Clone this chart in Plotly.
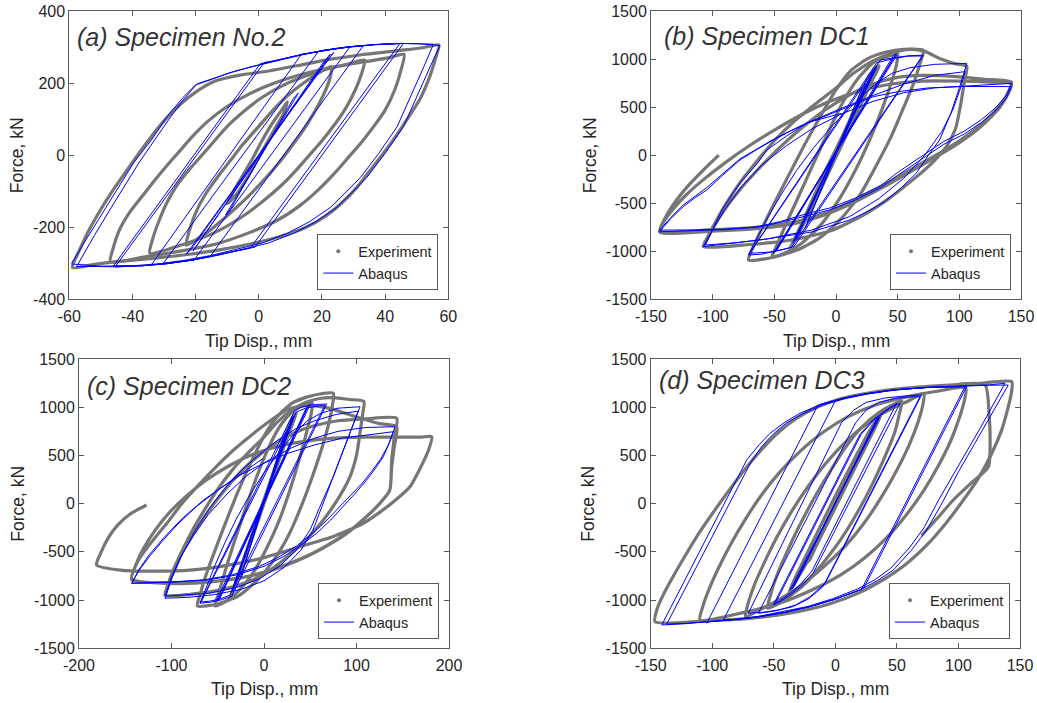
import plotly.graph_objects as go

FONT = "Liberation Sans"
GRAY = "#767676"
BLUE = "#0000ff"
AXC = "#5a5a5a"
TXT = "#262626"

# ---------------- tick labels ----------------
A_XTICKS = [-60, -40, -20, 0, 20, 40, 60]
A_YTICKS = [-400, -200, 0, 200, 400]
B_XTICKS = [-150, -100, -50, 0, 50, 100, 150]
BD_YTICKS = [-1500, -1000, -500, 0, 500, 1000, 1500]
C_XTICKS = [-200, -100, 0, 100, 200]

TITLES = ["(a) Specimen No.2", "(b) Specimen DC1", "(c) Specimen DC2", "(d) Specimen DC3"]
XLABEL = "Tip Disp., mm"
YLABEL = "Force, kN"
SERIES = ["Experiment", "Abaqus"]

# ---------------- panel (a): Specimen No.2 ----------------
A_EXP = [
    [(-10,-135),(-8,-100),(-5,-55),(-2,-10),(1,40),(4,85),(7,122),(9,148),(8,118),(5,72),(2,25),(-1,-22),(-4,-68),(-7,-108),(-10,-135)],
    [(-23,-250),(-22,-210),(-20,-160),(-17,-110),(-13,-60),(-9,-15),(-5,30),(0,80),(5,130),(10,172),(15,205),(19,228),(23,246),
     (22.5,212),(20.5,168),(17.5,118),(14,68),(10,20),(6,-25),(1,-75),(-4,-120),(-10,-168),(-16,-212),(-23,-250)],
    [(-34.5,-272),(-33.5,-230),(-31.5,-180),(-29,-130),(-26,-85),(-22,-40),(-18,0),(-14,40),(-10,80),(-5,120),(1,160),(8,195),(15,220),(22,240),(28,252),(33.5,264),
     (32.5,225),(30.5,180),(27.5,130),(24,85),(20,40),(16,0),(12,-40),(7,-85),(1,-130),(-6,-175),(-14,-215),(-23,-245),(-34.5,-272)],
    [(-47,-296),(-46,-255),(-44,-205),(-41,-160),(-37,-115),(-33,-70),(-29,-28),(-25,12),(-21,52),(-16,95),(-10,135),(-3,170),(5,200),(14,225),(24,245),(34,260),(41,270),(46,280),
     (45,235),(43,180),(40,125),(36,75),(32,30),(28,-10),(24,-50),(19,-95),(13,-140),(6,-180),(-3,-215),(-13,-245),(-24,-265),(-36,-282),(-47,-296)],
    [(-59,-312),(-57,-268),(-54,-212),(-50,-150),(-46,-95),(-42,-45),(-38,5),(-34,52),(-30,95),(-25,140),(-20,175),(-14,205),(-6,222),(2,232),(12,248),(22,265),(32,278),(44,290),(52,298),(57,306),
     (56,270),(54,215),(51,155),(47,100),(43,48),(39,0),(35,-45),(31,-90),(26,-135),(21,-170),(15,-200),(7,-225),(-2,-245),(-12,-262),(-22,-275),(-32,-285),(-44,-295),(-52,-303),(-59,-312)],
]
A_FEM = [
    [(-10.5,-166),(12.5,172),(11,158),(-9,-150),(-10.5,-166)],
    [(-23,-275),(23.7,285),(21.5,262),(-21.5,-262),(-23,-275)],
    [(-20.8,-266),(22.6,280),(20.5,258),(-19,-245),(-20.8,-266)],
    [(-34,-304),(13.5,280),(21,291),(29,301),(33.1,304),(-15.5,-282),(-21,-291),(-29,-301),(-34,-304)],
    [(-30.2,-300),(19,289),(24,296),(28.9,301),(-20.5,-291),(-25,-296),(-30.2,-300)],
    [(-46,-307),(0.5,254),(5,262),(13,278),(21,291),(29,301),(37,307),(45.8,310),(-1.2,-255),(-5,-262),(-13,-278),(-21,-291),(-29,-301),(-37,-307),(-46,-307)],
    [(-45.5,-310),(1.7,257),(5,262),(13,278),(21,291),(29,301),(37,307),(44.7,310),(-2.7,-258),(-5,-262),(-13,-278),(-21,-291),(-29,-301),(-37,-307),(-45.5,-310)],
    [(-59.3,-300),(-54,-225),(-48,-140),(-43,-70),(-39.7,-22),(-34,42),(-29,108),(-24,160),(-20,195),(-15,210),(-10,226),(-3,244),(5,262),(13,278),(21,291),(29,301),(37,307),(45,310),(51,309),(57.4,304),
     (54.5,250),(51.5,190),(48.5,130),(45.8,79),(40,5),(34.2,-62),(29,-108),(24.7,-145),(18,-185),(11,-217),(3,-244),(-5,-262),(-13,-278),(-21,-291),(-29,-301),(-37,-307),(-45,-310),(-51,-309),(-57.7,-309)],
    [(-57.7,-309),(-52,-222),(-46,-135),(-41.5,-70),(-38,-22),(-33,42),(-28,105),(-23.5,158),(-19.5,198),(-14,214),(-8,232),(0,250),(8,267),(16,283),(26,297),(36,306),(45,310),(55.3,308),
     (52.5,250),(49.5,190),(46.5,130),(43.8,79),(38,5),(32.2,-62),(27,-108),(22.7,-145),(16,-185),(9,-217),(1,-244),(-7,-262),(-15,-278),(-23,-291),(-31,-301),(-40,-307),(-50,-308),(-59.3,-302)],
]

# ---------------- panel (b): Specimen DC1 ----------------
B_EXP = [
    [(-33,-880),(-20,-560),(0,-20),(20,520),(32,880),(28,850),(10,330),(-10,-260),(-25,-680),(-33,-880)],
    [(-37,-960),(-22,-580),(0,20),(22,600),(35,930),(31,900),(12,380),(-10,-200),(-28,-720),(-37,-960)],
    [(-52,-1060),(-48,-940),(-40,-700),(-30,-420),(-18,-80),(-6,250),(6,560),(18,800),(30,960),(42,1030),(50,1050),
     (49,940),(45,760),(38,500),(28,180),(16,-150),(3,-450),(-12,-720),(-28,-920),(-40,-1010),(-52,-1060)],
    [(-71,-1092),(-68,-980),(-60,-760),(-50,-500),(-38,-200),(-25,120),(-12,420),(0,680),(12,880),(25,1000),(40,1070),(55,1100),(70.8,1090),
     (68,950),(63,750),(55,500),(45,200),(33,-100),(20,-400),(5,-650),(-12,-850),(-30,-980),(-50,-1060),(-71,-1092)],
    [(-107.6,-952),(-104,-850),(-97,-680),(-88,-480),(-77,-270),(-64,-60),(-50,150),(-35,340),(-18,520),(0,700),(15,860),(30,980),(45,1060),(60,1100),(72,1080),(85,1000),(97,950),(106,925),
     (104,760),(101,520),(97,280),(90,100),(78,-80),(62,-260),(42,-460),(20,-640),(-5,-790),(-35,-880),(-70,-930),(-107.6,-952)],
    [(-107.6,-952),(-100,-760),(-90,-560),(-78,-360),(-64,-160),(-48,50),(-30,260),(-10,460),(10,620),(30,740),(50,810),(70,830),(95,820),(120,790),(142.4,760),
     (139,640),(133,520),(126,420),(115,290),(100,150),(85,30),(70,-80),(50,-230),(30,-370),(10,-500),(-10,-610),(-35,-700),(-65,-750),(-100,-775),(-143,-797),
     (-140,-700),(-132,-560),(-122,-420),(-108,-260),(-90,-80),(-70,100),(-50,260),(-28,420),(-5,560),(20,670),(45,740),(70,770),(100,770),(125,760),(142.4,745),
     (139,625),(133,500),(126,400),(115,270),(100,130),(85,10),(70,-100),(50,-250),(30,-390),(10,-520),(-10,-625),(-35,-715),(-65,-765),(-100,-790),(-143,-800),
     (-138,-640),(-130,-480),(-120,-320),(-108,-160),(-95,0)],
]
B_FEM = [
    [(-25,-760),(24,740),(22,720),(-24,-745),(-25,-760)],
    [(-35,-910),(32,900),(30,880),(-33,-880),(-35,-910)],
    [(-34,-890),(33,915),(31,895),(-32,-870),(-34,-890)],
    [(-50.8,-1021),(49.2,1040),(47,1020),(-48,-990),(-50.8,-1021)],
    [(-50,-1010),(49,1057),(46.5,1035),(-47.5,-975),(-50,-1010)],
    [(-70,-1021),(36,990),(50,1020),(60,1035),(70.8,1040),(-34,-950),(-45,-990),(-55,-1010),(-70,-1021)],
    [(-71,-1039),(33,960),(45,1000),(58,1030),(70,1032),(-36,-960),(-50,-1000),(-60,-1030),(-71,-1039)],
    [(-71,-1039),(-64,-860),(-55,-640),(-44,-400),(-32,-160),(-18,80),(-2,320),(15,540),(30,720),(45,850),(60,910),(80,945),(106,955),
     (100,700),(93,430),(84,158),(75,0),(65,-189),(52,-350),(40,-480),(25,-590),(11,-675),(-20,-800),(-60,-880),(-85,-920),(-107.6,-952),
     (-101,-800),(-92,-560),(-78,-293),(-64,-90),(-56,54),(-40,200),(-24,331),(3,480),(30,620),(55,740),(80,830),(104.6,869),
     (101,700),(95,480),(86,250),(72,0),(55,-240),(35,-450),(11,-640),(-20,-780),(-55,-870),(-80,-910),(-106,-935),
     (-100,-780),(-90,-560),(-76,-320),(-60,-100),(-40,100),(-20,270),(3,420),(30,560),(55,650),(80,700),(110,725),(142.4,747),
     (138,620),(130,500),(118,370),(104,250),(87,140),(68,-20),(50,-180),(36,-320),(15,-450),(-5,-550),(-24,-610),(-45,-690),(-64,-745),(-90,-775),(-115,-785),(-143,-797),
     (-134,-660),(-123.8,-536),(-114,-440),(-104.8,-363),(-92,-210),(-77.8,-50),(-64,60),(-50.8,158),(-37,250),(-23.8,331),(-10,400),(3.2,470),(16,540),(30.2,608),(50,660),(75,700),(105,715),(142.4,713),
     (138,590),(130,470),(118,340),(104,220),(87,110),(68,-50),(50,-210),(36,-340),(15,-470),(-5,-570),(-24,-630),(-45,-700),(-64,-750),(-90,-770),(-115,-778),(-143,-780),
     (-134,-650),(-124,-520),(-105,-340),(-78,-40),(-50,170),(-23,340),(4.6,435)],
]

# ---------------- panel (c): Specimen DC2 ----------------
C_EXP = [
    [(-33,-900),(-18,-500),(0,0),(18,500),(32,880),(28,840),(12,380),(-8,-200),(-25,-680),(-33,-900)],
    [(-36,-960),(-20,-540),(0,40),(20,580),(35,940),(31,900),(14,420),(-8,-180),(-27,-720),(-36,-960)],
    [(-53,-1060),(-49,-930),(-42,-700),(-33,-420),(-21,-80),(-9,250),(4,560),(17,800),(30,950),(42,1020),(52,1050),
     (51,930),(46,740),(39,490),(29,170),(17,-160),(3,-460),(-12,-720),(-28,-910),(-41,-1010),(-53,-1060)],
    [(-72,-1060),(-69,-940),(-62,-720),(-52,-460),(-40,-160),(-27,150),(-13,450),(0,700),(14,900),(30,1040),(48,1110),(62,1140),(75,1144),
     (74,1020),(70,830),(63,590),(53,300),(41,-10),(27,-320),(11,-580),(-8,-800),(-28,-960),(-50,-1040),(-72,-1060)],
    [(-107,-950),(-104,-850),(-97,-680),(-88,-480),(-77,-270),(-64,-60),(-50,150),(-35,340),(-18,520),(0,690),(15,850),(30,970),(45,1050),(60,1090),(75,1100),(92,1080),(108,1060),
     (107,950),(104,750),(100,500),(93,280),(82,80),(68,-120),(50,-330),(28,-530),(5,-700),(-20,-820),(-50,-900),(-80,-940),(-107,-950)],
    [(-107,-950),(-101,-760),(-92,-560),(-80,-360),(-66,-160),(-50,50),(-32,260),(-12,450),(10,610),(32,730),(55,810),(80,860),(110,880),(143.5,885),
     (141,700),(138,450),(136,140),(125,0),(110,-140),(90,-300),(65,-450),(38,-580),(10,-680),(-20,-760),(-55,-810),(-95,-830),(-143,-780),
     (-136,-590),(-125,-440),(-115,-320),(-105,-204),(-88,10),(-69,211),(-51,390),(-33,556),(-15,700),(3,833),(24.5,971),(45,1020),(70,990),(100,900),(125,830),(143.5,798),
     (141,600),(138,380),(136,142),(124,-10),(108,-160),(88,-320),(62,-470),(34,-600),(5,-700),(-26,-770),(-60,-810),(-100,-820),(-143,-790),
     (-138,-620),(-130,-460),(-118,-280),(-103,-100),(-85,70),(-63,240),(-40,380),(-15,500),(10,580),(40,640),(75,680),(110,690),(145,690),(170,690),(181.3,694),
     (178,560),(170,390),(157.8,176),(140,20),(125,-90),(107.4,-204),(75,-340),(38.9,-446),(0,-560),(-40,-640),(-80,-690),(-120,-700),(-155,-690),(-181,-636),
     (-176,-500),(-168,-350),(-158,-220),(-145,-110),(-127,-14)],
]
C_FEM = [
    [(-25,-760),(24,740),(22,720),(-24,-745),(-25,-760)],
    [(-35,-910),(32,900),(30,880),(-33,-880),(-35,-910)],
    [(-34,-890),(33,915),(31,895),(-32,-870),(-34,-890)],
    [(-51.1,-999),(48,1020),(46,1000),(-48,-970),(-51.1,-999)],
    [(-50,-1010),(50,1030),(47.5,1010),(-47.5,-980),(-50,-1010)],
    [(-69.2,-1033),(33,960),(40,1000),(50,1020),(60,1030),(67.8,1033),(-35,-960),(-45,-995),(-57,-1020),(-69.2,-1033)],
    [(-68,-1020),(35,950),(45,990),(57,1010),(66,1023),(-37,-950),(-48,-990),(-58,-1010),(-68,-1020)],
    [(-69.2,-1033),(-62,-850),(-53,-640),(-42,-400),(-30,-160),(-16,80),(0,320),(17,540),(32,720),(47,860),(62,940),(80,990),(103.8,1005),
     (90,660),(75,280),(62,-40),(53,-273),(40,-480),(22,-660),(0,-800),(-25,-890),(-55,-945),(-80,-970),(-107,-981),
     (-99,-760),(-88,-520),(-75,-290),(-60,-60),(-43,150),(-25,340),(-5,510),(15,660),(35,780),(55,860),(78,925),(102,960),
     (88,620),(74,260),(60,-40),(50,-270),(36,-470),(18,-640),(-5,-780),(-30,-870),(-60,-930),(-85,-950),(-107,-960),
     (-100,-760),(-90,-550),(-76,-330),(-60,-110),(-40,100),(-20,280),(3,440),(30,580),(55,680),(80,750),(110,790),(141.6,798),
     (136,640),(129,487),(120,360),(111,245),(98,100),(85.8,-31),(72,-170),(57,-307),(40,-430),(20.9,-550),(0,-650),(-30,-740),(-60,-790),(-100,-815),(-143,-826),
     (-135,-690),(-124,-550),(-110,-390),(-93,-210),(-73,-30),(-50,140),(-25,300),(0,420),(25,520),(55,610),(85,680),(115,720),(139.8,746),
     (134,600),(126,460),(116,330),(106,210),(93,80),(80,-50),(66,-190),(51,-320),(35,-440),(15,-560),(-5,-650),(-35,-740),(-65,-790),(-105,-815),(-143,-826),
     (-135,-680),(-124,-530),(-108,-350),(-88,-150),(-65,40),(-40,210),(-20,340),(-0.8,470)],
]

# ---------------- panel (d): Specimen DC3 ----------------
D_EXP = [
    [(-22,-600),(20,560),(18,520),(-20,-560),(-22,-600)],
    [(-38,-920),(-30,-700),(-15,-310),(0,80),(15,450),(28,760),(37,930),(35,860),(25,600),(10,220),(-5,-170),(-20,-540),(-32,-800),(-38,-920)],
    [(-55,-1085),(-53,-960),(-48,-760),(-40,-520),(-30,-250),(-18,40),(-5,320),(8,580),(22,800),(36,950),(47,1030),(54,1065),
     (52,930),(48,730),(40,480),(30,200),(18,-90),(5,-360),(-9,-600),(-23,-810),(-37,-960),(-48,-1050),(-55,-1085)],
    [(-73,-1170),(-71,-1040),(-66,-850),(-58,-620),(-48,-360),(-36,-90),(-22,180),(-7,430),(10,660),(28,850),(45,980),(60,1070),(72,1145),
     (71,1020),(67,840),(60,610),(50,350),(38,80),(24,-190),(8,-440),(-10,-660),(-28,-850),(-45,-990),(-60,-1090),(-73,-1170)],
    [(-110,-1207),(-108,-1080),(-103,-900),(-95,-670),(-85,-420),(-73,-160),(-60,90),(-45,330),(-28,550),(-10,740),(10,900),(32,1020),(55,1100),(80,1160),(106,1200),
     (105,1080),(101,900),(94,660),(84,400),(72,140),(58,-110),(42,-350),(24,-560),(4,-740),(-20,-900),(-45,-1030),(-75,-1130),(-110,-1207)],
    [(-146.5,-1224),(-145,-1100),(-140,-950),(-132,-760),(-122,-540),(-110,-290),(-97,-50),(-85,160),(-72,380),(-60,560),(-47,730),(-32,880),(-15,1000),(5,1090),(28,1150),(55,1195),(85,1225),(115,1245),(143.3,1265),
     (143,1150),(140,980),(135,760),(127,520),(116,260),(103,20),(90,-200),(75,-420),(58,-620),(40,-780),(20,-920),(-5,-1040),(-35,-1130),(-70,-1190),(-105,-1215),(-146.5,-1224)],
    [(100,1238),(121.6,1231),(125,900),(125.7,694),(124.3,383),(110,210),(95.8,38),(85,-120),(70,-330)],
]
D_FEM = [
    [(-36.8,-895),(36.3,902),(34,870),(-34.5,-870),(-36.8,-895)],
    [(-35,-880),(35,890),(33,860),(-33,-850),(-35,-880)],
    [(-50.4,-1051),(20,720),(30,860),(40,960),(46,1010),(52.5,1041),(-18,-720),(-28,-860),(-38,-960),(-44,-1010),(-50.4,-1051)],
    [(-49,-1040),(21,720),(31,860),(41,960),(46,1000),(49.8,1041),(-19,-700),(-30,-860),(-40,-960),(-46,-1010),(-49,-1040)],
    [(-70.7,-1137),(5,840),(15,970),(25,1050),(40,1095),(55,1115),(70.1,1127),(-8,-820),(-20,-960),(-32,-1050),(-45,-1100),(-58,-1125),(-70.7,-1137)],
    [(-62.6,-1137),(16.5,840),(25,970),(35,1050),(48,1090),(58,1105),(68.7,1109),(-10,-860),(-22,-990),(-35,-1070),(-50,-1115),(-62.6,-1137)],
    [(-104.5,-1241),(-14.2,1020),(-12,1030),(6.5,1093),(25,1140),(47,1179),(75,1205),(106.7,1215),
     (23.2,-873),(20,-895),(0,-990),(-20.6,-1068),(-40,-1125),(-61.2,-1172),(-80,-1200),(-91,-1207)],
    [(-91,-1207),(0.2,1072),(6.5,1093),(25,1140),(47,1179),(75,1205),(105.3,1213),
     (21.4,-885),(20,-895),(0,-990),(-20.6,-1068),(-40,-1125),(-61.2,-1172),(-80,-1200),(-101.8,-1224),(-104.5,-1235)],
    [(-141,-1258),(-120,-740),(-100,-240),(-85,130),(-72,453),(-62,610),(-53,730),(-41,845),(-28.7,937),(-12,1030),(6.5,1093),(25,1140),(47,1179),(75,1205),(101,1220),(125,1228),(140.5,1230),
     (120,770),(100,330),(86,-10),(74.2,-273),(62,-480),(47.1,-688),(34,-800),(20,-895),(0,-990),(-20.6,-1068),(-40,-1125),(-61.2,-1172),(-80,-1200),(-101.8,-1224),(-120,-1240),(-137,-1250)],
    [(-137,-1250),(-117,-760),(-97,-260),(-82,110),(-69,420),(-60,590),(-51,715),(-40,835),(-27,930),(-10,1025),(8,1090),(27,1140),(48,1180),(76,1207),(102,1222),(125,1232),(137.8,1248),
     (118,790),(98,350),(84,40),(72,-250),(60,-460),(45,-670),(32,-790),(18,-885),(-2,-985),(-22,-1065),(-42,-1120),(-63,-1170),(-82,-1200),(-103,-1225),(-122,-1245),(-141,-1258)],
]

# ---------------- layout geometry (pixels in a 1037x703 page) ----------------
W, H = 1037, 703
PANELS = [
    dict(box=(69.3, 448.3, 11, 299.3), xr=(-60, 60), yr=(-400, 400), xt=A_XTICKS, yt=A_YTICKS, exp=A_EXP, fem=A_FEM,
         title=(75, 37), ylab=17, xlab=341),
    dict(box=(651, 1021, 11, 299.3), xr=(-150, 150), yr=(-1500, 1500), xt=B_XTICKS, yt=BD_YTICKS, exp=B_EXP, fem=B_FEM,
         title=(662, 36), ylab=590, xlab=341),
    dict(box=(79, 449, 359, 648.3), xr=(-200, 200), yr=(-1500, 1500), xt=C_XTICKS, yt=BD_YTICKS, exp=C_EXP, fem=C_FEM,
         title=(85, 386), ylab=18, xlab=689),
    dict(box=(650.7, 1020, 359, 648.3), xr=(-150, 150), yr=(-1500, 1500), xt=B_XTICKS, yt=BD_YTICKS, exp=D_EXP, fem=D_FEM,
         title=(657, 380), ylab=588, xlab=689),
]


def flatten(loops):
    xs, ys = [], []
    for loop in loops:
        for x, y in loop:
            xs.append(x)
            ys.append(y)
        xs.append(None)
        ys.append(None)
    return xs, ys


def fx(px):
    return px / W


def fy(py):
    return 1 - py / H


fig = go.Figure()
layout = dict(
    width=W, height=H, margin=dict(l=0, r=0, t=0, b=0, pad=0, autoexpand=False),
    paper_bgcolor="white", plot_bgcolor="white",
    font=dict(family=FONT, size=16, color=TXT),
    showlegend=True, template="none",
)
annotations = []

for i, p in enumerate(PANELS):
    n = "" if i == 0 else str(i + 1)
    xa, ya = "x" + n, "y" + n
    leg = "legend" + n
    l, r, t, b = p["box"]

    ex, ey = flatten(p["exp"])
    fig.add_trace(go.Scatter(x=ex, y=ey, xaxis=xa, yaxis=ya, mode="lines",
                             line=dict(color=GRAY, width=3.2, shape="spline", smoothing=0.6),
                             showlegend=False, hoverinfo="skip", connectgaps=False))
    fig.add_trace(go.Scatter(x=[None], y=[None], xaxis=xa, yaxis=ya, mode="markers",
                             marker=dict(color=GRAY, size=4), name=SERIES[0], legend=leg))
    bx, by = flatten(p["fem"])
    fig.add_trace(go.Scatter(x=bx, y=by, xaxis=xa, yaxis=ya, mode="lines",
                             line=dict(color=BLUE, width=1), name=SERIES[1], legend=leg,
                             connectgaps=False))

    common = dict(showline=True, linecolor=AXC, linewidth=1, mirror="ticks",
                  ticks="inside", ticklen=5, tickcolor=AXC, tickwidth=1,
                  showgrid=False, zeroline=False, fixedrange=True, automargin=False,
                  tickfont=dict(family=FONT, size=16, color=TXT))
    layout["xaxis" + n] = dict(common, domain=[fx(l), fx(r)], range=list(p["xr"]), anchor=ya,
                               tickmode="array", tickvals=p["xt"], ticktext=[str(v) for v in p["xt"]],
                               ticklabelstandoff=2)
    layout["yaxis" + n] = dict(common, domain=[fy(b), fy(t)], range=list(p["yr"]), anchor=xa,
                               tickmode="array", tickvals=p["yt"], ticktext=[str(v) for v in p["yt"]],
                               ticklabelstandoff=0)
    layout[leg] = dict(x=fx(r - 10), y=fy(b - 9), xanchor="right", yanchor="bottom",
                       xref="paper", yref="paper",
                       bgcolor="white", bordercolor=AXC, borderwidth=1,
                       font=dict(family=FONT, size=14.5, color=TXT),
                       tracegroupgap=0, itemwidth=30)

    tx, ty = p["title"]
    annotations.append(dict(x=fx(tx), y=fy(ty), xref="paper", yref="paper", xanchor="left", yanchor="middle",
                            text="<i>" + TITLES[i] + "</i>", showarrow=False,
                            font=dict(family=FONT, size=25, color="#333333")))
    annotations.append(dict(x=fx((l + r) / 2), y=fy(p["xlab"]), xref="paper", yref="paper",
                            xanchor="center", yanchor="middle", text=XLABEL, showarrow=False,
                            font=dict(family=FONT, size=17.5, color=TXT)))
    annotations.append(dict(x=fx(p["ylab"]), y=fy((t + b) / 2), xref="paper", yref="paper",
                            xanchor="center", yanchor="middle", text=YLABEL, showarrow=False, textangle=-90,
                            font=dict(family=FONT, size=17.5, color=TXT)))

layout["annotations"] = annotations
fig.update_layout(**layout)
fig.write_html("out.html", config={"displayModeBar": False, "staticPlot": False})

# remove the browser's default page margin so the figure sits at the window origin
with open("out.html", "r", encoding="utf-8") as fh:
    html = fh.read()
html = html.replace("<head>", "<head><style>html,body{margin:0;padding:0;overflow:hidden;}</style>", 1)
with open("out.html", "w", encoding="utf-8") as fh:
    fh.write(html)
